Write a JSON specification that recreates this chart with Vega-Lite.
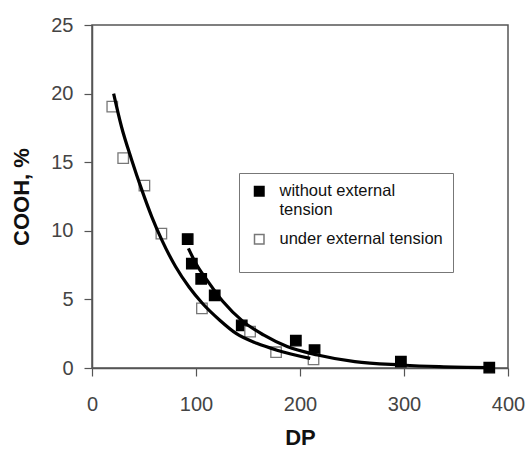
{
  "$schema": "https://vega.github.io/schema/vega-lite/v6.json",
  "width": 416,
  "height": 343,
  "autosize": {"type": "none"},
  "padding": {"left": 92, "top": 25, "right": 22, "bottom": 82},
  "background": "white",
  "config": {
    "view": {"stroke": "#555", "strokeWidth": 1.5},
    "font": "Liberation Sans",
    "axis": {
      "grid": false,
      "domainColor": "#555",
      "domainWidth": 1.5,
      "tickColor": "#555",
      "tickWidth": 1.2,
      "tickSize": 8,
      "labelFont": "Liberation Sans",
      "labelFontSize": 20,
      "labelColor": "#444",
      "titleFont": "Liberation Sans",
      "titleFontSize": 22,
      "titleFontWeight": "bold",
      "titleColor": "#111"
    }
  },
  "data": {
    "values": [
      {"series": "without external tension", "kind": "point", "DP": 92, "COOH": 9.4},
      {"series": "without external tension", "kind": "point", "DP": 96, "COOH": 7.6},
      {"series": "without external tension", "kind": "point", "DP": 105, "COOH": 6.5},
      {"series": "without external tension", "kind": "point", "DP": 118, "COOH": 5.3},
      {"series": "without external tension", "kind": "point", "DP": 144, "COOH": 3.1},
      {"series": "without external tension", "kind": "point", "DP": 196, "COOH": 2.0},
      {"series": "without external tension", "kind": "point", "DP": 214, "COOH": 1.3},
      {"series": "without external tension", "kind": "point", "DP": 297, "COOH": 0.46},
      {"series": "without external tension", "kind": "point", "DP": 382, "COOH": 0.03},
      {"series": "under external tension", "kind": "point", "DP": 19.5, "COOH": 19.05},
      {"series": "under external tension", "kind": "point", "DP": 30, "COOH": 15.3},
      {"series": "under external tension", "kind": "point", "DP": 50.4, "COOH": 13.3},
      {"series": "under external tension", "kind": "point", "DP": 66.7, "COOH": 9.8},
      {"series": "under external tension", "kind": "point", "DP": 105.7, "COOH": 4.35},
      {"series": "under external tension", "kind": "point", "DP": 152, "COOH": 2.65},
      {"series": "under external tension", "kind": "point", "DP": 177, "COOH": 1.15},
      {"series": "under external tension", "kind": "point", "DP": 213, "COOH": 0.63},
      {"series": "under external tension", "kind": "curve", "DP": 20.8, "COOH": 20.0},
      {"series": "under external tension", "kind": "curve", "DP": 28.3, "COOH": 17.6},
      {"series": "under external tension", "kind": "curve", "DP": 38, "COOH": 15.2},
      {"series": "under external tension", "kind": "curve", "DP": 47.8, "COOH": 13.0},
      {"series": "under external tension", "kind": "curve", "DP": 57.6, "COOH": 11.0},
      {"series": "under external tension", "kind": "curve", "DP": 67.3, "COOH": 9.3},
      {"series": "under external tension", "kind": "curve", "DP": 80.3, "COOH": 7.4},
      {"series": "under external tension", "kind": "curve", "DP": 93.3, "COOH": 5.9},
      {"series": "under external tension", "kind": "curve", "DP": 106.3, "COOH": 4.7},
      {"series": "under external tension", "kind": "curve", "DP": 122.6, "COOH": 3.5},
      {"series": "under external tension", "kind": "curve", "DP": 138.9, "COOH": 2.5},
      {"series": "under external tension", "kind": "curve", "DP": 158.4, "COOH": 1.8},
      {"series": "under external tension", "kind": "curve", "DP": 177.9, "COOH": 1.3},
      {"series": "under external tension", "kind": "curve", "DP": 209.8, "COOH": 0.7},
      {"series": "without external tension", "kind": "curve", "DP": 92.7, "COOH": 8.72},
      {"series": "without external tension", "kind": "curve", "DP": 99.8, "COOH": 7.63},
      {"series": "without external tension", "kind": "curve", "DP": 112.8, "COOH": 6.17},
      {"series": "without external tension", "kind": "curve", "DP": 125.9, "COOH": 4.84},
      {"series": "without external tension", "kind": "curve", "DP": 145.4, "COOH": 3.38},
      {"series": "without external tension", "kind": "curve", "DP": 164.9, "COOH": 2.41},
      {"series": "without external tension", "kind": "curve", "DP": 187.6, "COOH": 1.56},
      {"series": "without external tension", "kind": "curve", "DP": 216.9, "COOH": 0.95},
      {"series": "without external tension", "kind": "curve", "DP": 252.7, "COOH": 0.46},
      {"series": "without external tension", "kind": "curve", "DP": 297.2, "COOH": 0.22},
      {"series": "without external tension", "kind": "curve", "DP": 334, "COOH": 0.1},
      {"series": "without external tension", "kind": "curve", "DP": 381.8, "COOH": 0.03}
    ]
  },
  "encoding": {
    "x": {
      "field": "DP", "type": "quantitative", "title": "DP",
      "scale": {"domain": [0, 400], "nice": false},
      "axis": {"values": [0, 100, 200, 300, 400], "labelPadding": 18, "titleY": 76, "titleBaseline": "alphabetic", "labelFlush": false}
    },
    "y": {
      "field": "COOH", "type": "quantitative", "title": "COOH, %",
      "scale": {"domain": [0, 25], "nice": false},
      "axis": {"values": [0, 5, 10, 15, 20, 25], "labelPadding": 11, "titleX": -59, "labelFlush": false}
    }
  },
  "layer": [
    {
      "transform": [{"filter": "datum.kind == 'point'"}],
      "mark": {"type": "point", "shape": "square", "filled": false, "opacity": 1, "strokeWidth": 1.3},
      "encoding": {
        "fill": {
          "field": "series", "type": "nominal",
          "scale": {"domain": ["without external tension", "under external tension"], "range": ["#000000", "#ffffff"]},
          "legend": {
            "title": " ",
            "titleOrient": "bottom",
            "titleFontSize": 10,
            "titlePadding": 4,
            "orient": "none",
            "legendX": 147,
            "legendY": 148,
            "padding": 10,
            "symbolOffset": 2,
            "strokeColor": "#777",
            "fillColor": "#ffffff",
            "symbolType": "square",
            "symbolSize": 90,
            "labelFont": "Liberation Sans",
            "labelFontSize": 16.5,
            "labelColor": "#111",
            "labelOffset": 12,
            "labelLimit": 400,
            "rowPadding": 12,
            "labelBaseline": "middle",
            "labelExpr": "datum.label == 'without external tension' ? ['without external', 'tension'] : datum.label"
          }
        },
        "stroke": {
          "field": "series", "type": "nominal",
          "scale": {"domain": ["without external tension", "under external tension"], "range": ["#000000", "#777777"]},
          "legend": null
        },
        "size": {"value": 110}
      }
    },
    {
      "transform": [{"filter": "datum.kind == 'curve'"}],
      "mark": {"type": "line", "color": "#000000", "strokeWidth": 3.2, "interpolate": "monotone"},
      "encoding": {
        "detail": {"field": "series", "type": "nominal"}
      }
    }
  ]
}
